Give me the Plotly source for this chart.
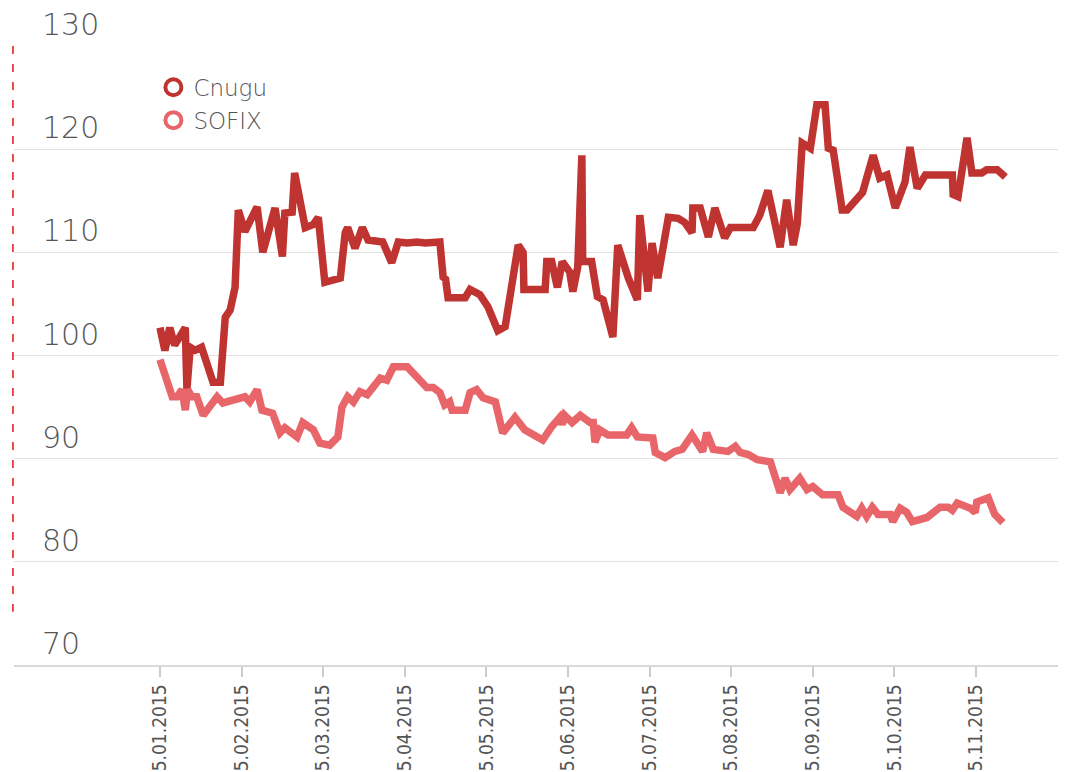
import plotly.graph_objects as go

# x positions are in months from 5.01.2015 (tick spacing is uniform per month)
cnugu_x = [0.00, 0.06, 0.12, 0.18, 0.31, 0.33, 0.37, 0.43, 0.51, 0.65, 0.74, 0.80, 0.86, 0.92, 0.96,
           1.04, 1.19, 1.26, 1.41, 1.50, 1.53, 1.62, 1.65, 1.78, 1.88, 1.94, 2.02, 2.21, 2.27, 2.30,
           2.39, 2.48, 2.55, 2.73, 2.84, 2.92, 3.03, 3.15, 3.25, 3.43, 3.47, 3.50, 3.53, 3.74, 3.80,
           3.92, 4.02, 4.14, 4.23, 4.39, 4.45, 4.46, 4.72, 4.74, 4.80, 4.87, 4.93, 5.02, 5.06, 5.12,
           5.17, 5.18, 5.29, 5.36, 5.43, 5.55, 5.61, 5.74, 5.85, 5.88, 5.98, 6.03, 6.10, 6.23, 6.35,
           6.43, 6.52, 6.53, 6.62, 6.72, 6.80, 6.92, 6.99, 7.27, 7.35, 7.45, 7.60, 7.68, 7.76, 7.81,
           7.87, 7.97, 8.05, 8.15, 8.19, 8.25, 8.36, 8.42, 8.61, 8.74, 8.82, 8.91, 9.01, 9.13, 9.19,
           9.28, 9.38, 9.71, 9.72, 9.78, 9.89, 9.95, 10.07, 10.13, 10.26, 10.36]
cnugu_y = [102.7, 100.5, 102.7, 101.0, 102.7, 96.7, 100.8, 100.5, 100.8, 97.4, 97.4, 103.7, 104.4, 106.6, 114.1,
           112.0, 114.4, 110.0, 114.3, 109.6, 113.8, 113.9, 117.7, 112.4, 112.7, 113.4, 107.1, 107.5, 111.9, 112.4,
           110.4, 112.4, 111.2, 111.0, 109.0, 111.0, 110.9, 111.0, 110.9, 111.0, 107.6, 107.4, 105.6, 105.6, 106.4,
           105.9, 104.7, 102.4, 102.8, 110.7, 110.0, 106.4, 106.4, 109.1, 109.1, 106.6, 109.1, 108.1, 106.2, 108.6,
           119.4, 109.1, 109.1, 105.7, 105.4, 101.8, 110.7, 107.5, 105.4, 113.6, 106.2, 110.9, 107.5, 113.4, 113.3,
           112.9, 111.9, 114.3, 114.3, 111.5, 114.3, 111.4, 112.4, 112.4, 113.6, 116.0, 110.5, 115.1, 110.7, 112.8,
           120.6, 120.1, 124.3, 124.3, 120.1, 119.9, 114.1, 114.1, 115.8, 119.4, 117.2, 117.5, 114.3, 116.8, 120.2,
           116.2, 117.5, 117.5, 115.6, 115.4, 121.1, 117.7, 117.7, 118.0, 118.0, 117.3]

sofix_x = [0.00, 0.15, 0.21, 0.27, 0.31, 0.34, 0.39, 0.45, 0.53, 0.70, 0.77, 1.04, 1.10, 1.19, 1.25,
           1.38, 1.47, 1.53, 1.68, 1.75, 1.88, 1.96, 2.08, 2.18, 2.23, 2.30, 2.37, 2.45, 2.54, 2.70,
           2.78, 2.86, 3.03, 3.27, 3.35, 3.43, 3.49, 3.55, 3.58, 3.74, 3.80, 3.88, 3.96, 4.07, 4.11,
           4.20, 4.35, 4.47, 4.69, 4.80, 4.90, 4.93, 4.96, 5.05, 5.15, 5.27, 5.31, 5.33, 5.39, 5.49,
           5.72, 5.78, 5.85, 6.04, 6.07, 6.19, 6.31, 6.40, 6.52, 6.65, 6.70, 6.78, 6.96, 7.05, 7.11,
           7.21, 7.32, 7.48, 7.60, 7.66, 7.72, 7.84, 7.93, 8.00, 8.12, 8.31, 8.37, 8.54, 8.60, 8.66,
           8.73, 8.80, 8.95, 8.98, 9.07, 9.15, 9.22, 9.40, 9.56, 9.66, 9.71, 9.77, 9.93, 9.99, 10.01,
           10.15, 10.23, 10.33]
sofix_y = [99.6, 96.0, 96.0, 96.7, 94.7, 96.7, 96.0, 96.0, 94.2, 96.0, 95.4, 96.0, 95.5, 96.7, 94.7,
           94.4, 92.5, 93.0, 92.1, 93.5, 92.8, 91.5, 91.3, 92.1, 95.0, 96.0, 95.5, 96.5, 96.2, 97.8,
           97.6, 98.9, 98.9, 96.9, 96.9, 96.4, 95.2, 95.5, 94.7, 94.7, 96.4, 96.7, 95.9, 95.7, 95.5,
           92.5, 94.0, 92.8, 91.8, 93.1, 94.0, 93.3, 94.2, 93.5, 94.2, 93.5, 93.5, 91.6, 92.8, 92.3,
           92.3, 93.0, 92.1, 92.0, 90.6, 90.1, 90.7, 90.9, 92.3, 90.7, 92.5, 90.9, 90.7, 91.2, 90.6,
           90.4, 89.9, 89.7, 86.7, 88.1, 87.0, 88.1, 87.0, 87.3, 86.5, 86.5, 85.3, 84.4, 85.2, 84.4,
           85.3, 84.6, 84.6, 83.9, 85.2, 84.8, 83.9, 84.3, 85.3, 85.3, 85.0, 85.7, 85.2, 84.8, 85.8,
           86.2, 84.6, 83.8]

tick_pos = list(range(11))
tick_labels = ["5.01.2015", "5.02.2015", "5.03.2015", "5.04.2015", "5.05.2015", "5.06.2015",
               "5.07.2015", "5.08.2015", "5.09.2015", "5.10.2015", "5.11.2015"]
y_ticks = [70, 80, 90, 100, 110, 120, 130]

series_names = ["Cnugu", "SOFIX"]
colors = ["#bf3430", "#e8666a"]

fig = go.Figure()
fig.add_trace(go.Scatter(x=cnugu_x, y=cnugu_y, mode="lines", showlegend=False,
                         line=dict(color=colors[0], width=7.5)))
fig.add_trace(go.Scatter(x=sofix_x, y=sofix_y, mode="lines", showlegend=False,
                         line=dict(color=colors[1], width=7.5)))
for name, c in zip(series_names, colors):
    fig.add_trace(go.Scatter(x=[None], y=[None], mode="markers", name=name,
                             marker=dict(symbol="circle-open", size=16, color=c,
                                         line=dict(width=4, color=c))))

label_font = dict(family="DejaVu Sans, sans-serif", size=30, color="#555555", weight=200)
annotations = []
for v in y_ticks:
    annotations.append(dict(x=0.0247, xref="paper", y=v, yref="y", text=str(v), showarrow=False,
                            xanchor="left", yanchor="bottom", yshift=2, font=label_font))

# page body has an 8px margin: figure is drawn 8px in from the top-left of the window
fig.update_layout(
    width=1058, height=764,
    margin=dict(l=6, r=0, t=38, b=107, autoexpand=False),
    paper_bgcolor="white", plot_bgcolor="white",
    annotations=annotations,
    legend=dict(x=0.1325, y=0.968, xanchor="left", yanchor="top",
                font=dict(family="DejaVu Sans, sans-serif", size=23, color="#555555", weight=200),
                bgcolor="rgba(0,0,0,0)", itemwidth=30, tracegroupgap=0),
    xaxis=dict(range=[-1.789, 11.103], tickvals=tick_pos, ticktext=tick_labels, tickangle=-90,
               automargin=False,
               showgrid=False, zeroline=False, showline=True, linecolor="#d9d9d9", linewidth=1.5,
               ticks="outside", ticklen=10, tickcolor="#cccccc", tickwidth=1.5,
               tickfont=dict(family="Liberation Sans Narrow, DejaVu Sans Condensed, sans-serif",
                             size=19, color="#555555")),
    yaxis=dict(range=[70, 130], tickvals=y_ticks, showticklabels=False, showgrid=True,
               automargin=False,
               gridcolor="#e2e2e2", gridwidth=1.2, zeroline=False, showline=False),
    shapes=[dict(type="line", xref="paper", yref="paper", x0=-0.001, x1=-0.001, y0=1.0, y1=0.086,
                 line=dict(color="#e0141e", width=1.5, dash="8px,10px"))],
)

fig.write_html("out.html")
